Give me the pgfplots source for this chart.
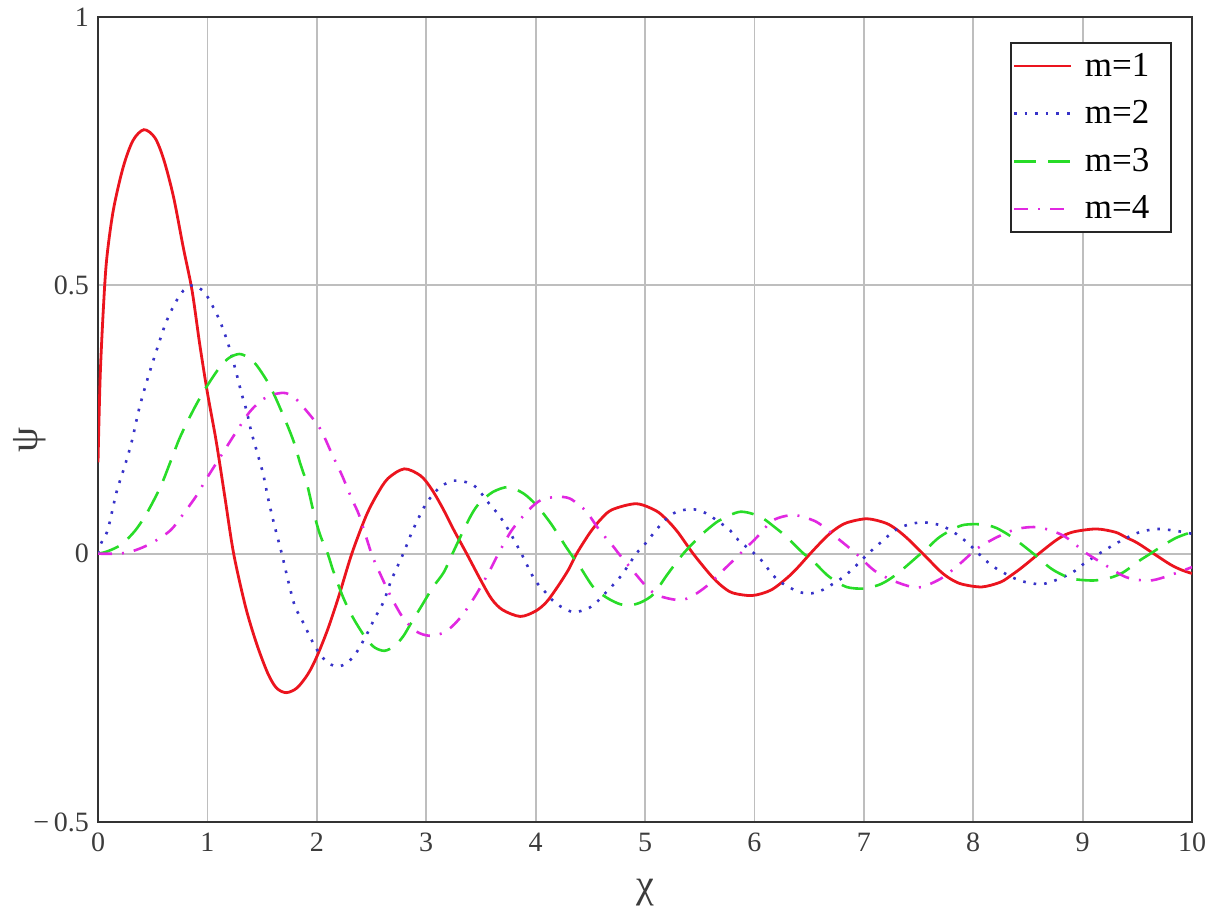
\documentclass[border=0pt]{standalone}
\usepackage{fontspec}
\setmainfont{Liberation Serif}
\usepackage{pgfplots}
\pgfplotsset{compat=1.18}
\definecolor{cred}{RGB}{235,20,30}
\definecolor{cblue}{RGB}{55,50,200}
\definecolor{cgreen}{RGB}{40,220,40}
\definecolor{cmag}{RGB}{225,40,225}
\definecolor{cgrid}{RGB}{190,190,190}
\definecolor{ctick}{RGB}{60,60,60}
\newcommand{\padr}{\rule{8pt}{0pt}}
\begin{document}
\begin{tikzpicture}
\begin{axis}[
  scale only axis,
  width=547pt, height=402.5pt,
  xmin=0, xmax=10, ymin=-0.5, ymax=1,
  xtick={0,1,...,10},
  ytick={-0.5,0,0.5,1},
  yticklabels={{−\,0.5},0,0.5,1},
  grid=major,
  major grid style={cgrid, line width=0.9pt},
  major tick length=0pt,
  axis line style={black!80, line width=1.3pt},
  /pgf/number format/assume math mode=true,
  tick label style={font=\fontsize{14}{14}\selectfont, text=ctick},
  xticklabel style={yshift=-2pt},
  yticklabel style={xshift=-1pt},
  xlabel={χ}, ylabel={ψ},
  every axis x label/.style={font=\fontsize{20}{20}\selectfont, text=ctick, at={(axis description cs:0.5,-0.088)}, anchor=center},
  every axis y label/.style={font=\fontsize{20}{20}\selectfont, text=ctick, at={(axis description cs:-0.062,0.475)}, anchor=center, rotate=90},
  legend style={at={(0.982,0.969)}, anchor=north east, draw=black!85, line width=1pt,
    font=\fontsize{17.5}{17.5}\selectfont, row sep=6.75pt, inner xsep=1pt, inner ysep=3pt},
  legend cell align=left,
  legend image code/.code={\draw[#1, line width=1.2pt] (0cm,0cm) -- (1.0cm,0cm); \path (1.15cm,0cm);},
  every axis plot/.append style={smooth},
]
\addplot[cred, line width=1.4pt] coordinates {
(0,0.17) (0.02,0.33) (0.05,0.46) (0.08,0.55) (0.14,0.64) (0.23,0.72) (0.32,0.77) (0.42,0.79)
(0.52,0.775) (0.60,0.735) (0.69,0.665) (0.78,0.57) (0.86,0.49) (0.93,0.39) (1.00,0.30) (1.08,0.21)
(1.16,0.105) (1.24,0.0) (1.35,-0.10) (1.45,-0.168) (1.55,-0.222) (1.63,-0.25) (1.72,-0.259)
(1.82,-0.25) (1.92,-0.224) (2.00,-0.192) (2.10,-0.141) (2.20,-0.08) (2.32,0) (2.45,0.07) (2.55,0.11)
(2.65,0.14) (2.80,0.158) (2.95,0.145) (3.05,0.12) (3.15,0.085) (3.25,0.045) (3.37,0) (3.50,-0.05)
(3.60,-0.085) (3.70,-0.105) (3.86,-0.117) (4.00,-0.107) (4.10,-0.09) (4.20,-0.062) (4.30,-0.03)
(4.375,0) (4.50,0.04) (4.60,0.065) (4.70,0.082) (4.92,0.093) (5.10,0.08) (5.20,0.063) (5.30,0.04)
(5.44,0) (5.60,-0.04) (5.70,-0.06) (5.80,-0.073) (5.98,-0.078) (6.15,-0.068) (6.30,-0.045)
(6.40,-0.025) (6.51,0) (6.65,0.03) (6.75,0.047) (6.85,0.058) (7.03,0.065) (7.20,0.057) (7.30,0.045)
(7.40,0.028) (7.54,0) (7.70,-0.033) (7.80,-0.048) (7.90,-0.057) (8.08,-0.062) (8.25,-0.053)
(8.35,-0.04) (8.45,-0.025) (8.60,0) (8.75,0.024) (8.85,0.036) (8.95,0.042) (9.13,0.046) (9.30,0.04)
(9.40,0.03) (9.50,0.02) (9.65,0) (9.80,-0.02) (9.90,-0.03) (10,-0.037)
};
\addlegendentry{m=1\padr}
\addplot[cblue, line width=1.3pt, dash pattern=on 1.3pt off 4pt] coordinates {
(0,0) (0.03,0.02) (0.09,0.045) (0.17,0.115) (0.25,0.167) (0.31,0.21) (0.37,0.265) (0.43,0.31)
(0.49,0.35) (0.55,0.388) (0.62,0.43) (0.70,0.465) (0.78,0.49) (0.87,0.50) (0.98,0.485) (1.10,0.44)
(1.18,0.397) (1.25,0.348) (1.31,0.30) (1.36,0.265) (1.40,0.228) (1.45,0.192) (1.51,0.148)
(1.56,0.098) (1.62,0.047) (1.68,0) (1.74,-0.052) (1.80,-0.098) (1.88,-0.13) (1.95,-0.16)
(2.03,-0.188) (2.12,-0.206) (2.20,-0.21) (2.28,-0.203) (2.36,-0.185) (2.45,-0.153) (2.53,-0.12)
(2.61,-0.09) (2.68,-0.05) (2.79,0) (2.88,0.045) (2.99,0.09) (3.07,0.112) (3.14,0.126) (3.25,0.136)
(3.37,0.133) (3.46,0.123) (3.58,0.092) (3.66,0.073) (3.75,0.045) (3.87,0) (3.99,-0.048)
(4.09,-0.072) (4.16,-0.088) (4.25,-0.101) (4.35,-0.109) (4.47,-0.103) (4.55,-0.092) (4.63,-0.075)
(4.71,-0.058) (4.79,-0.039) (4.92,0) (5.00,0.018) (5.11,0.046) (5.20,0.066) (5.29,0.078)
(5.42,0.083) (5.53,0.078) (5.65,0.063) (5.78,0.043) (5.85,0.026) (6.00,0) (6.08,-0.016)
(6.16,-0.038) (6.24,-0.053) (6.33,-0.064) (6.42,-0.072) (6.52,-0.074) (6.63,-0.067) (6.72,-0.056)
(6.81,-0.044) (6.90,-0.028) (7.04,0) (7.10,0.011) (7.20,0.029) (7.28,0.043) (7.36,0.051)
(7.47,0.057) (7.57,0.058) (7.70,0.053) (7.78,0.045) (7.85,0.036) (7.95,0.02) (8.05,0)
(8.15,-0.019) (8.23,-0.03) (8.31,-0.039) (8.40,-0.048) (8.50,-0.054) (8.62,-0.057) (8.72,-0.052)
(8.82,-0.044) (8.93,-0.032) (9.01,-0.019) (9.15,0) (9.20,0.006) (9.28,0.016) (9.37,0.026)
(9.48,0.037) (9.58,0.043) (9.69,0.046) (9.80,0.044) (9.90,0.041) (10,0.037)
};
\addlegendentry{m=2\padr}
\addplot[cgreen, line width=1.3pt, dash pattern=on 11pt off 6pt] coordinates {
(0,0) (0.05,0.002) (0.12,0.007) (0.22,0.018) (0.34,0.043) (0.445,0.075) (0.57,0.124) (0.66,0.17)
(0.75,0.217) (0.87,0.267) (0.98,0.307) (1.115,0.348) (1.20,0.365) (1.29,0.372) (1.37,0.366)
(1.45,0.351) (1.57,0.313) (1.68,0.264) (1.785,0.211) (1.85,0.167) (1.91,0.13) (1.97,0.078)
(2.03,0.035) (2.10,0) (2.15,-0.032) (2.24,-0.081) (2.33,-0.119) (2.45,-0.158) (2.53,-0.175)
(2.62,-0.181) (2.71,-0.172) (2.79,-0.154) (2.86,-0.13) (2.95,-0.1) (3.06,-0.063) (3.16,-0.035)
(3.24,0) (3.34,0.043) (3.42,0.075) (3.49,0.095) (3.61,0.115) (3.75,0.124) (3.89,0.112) (4.01,0.09)
(4.10,0.067) (4.16,0.05) (4.28,0.012) (4.32,0) (4.41,-0.026) (4.53,-0.063) (4.65,-0.082)
(4.77,-0.094) (4.87,-0.096) (4.97,-0.09) (5.08,-0.075) (5.20,-0.04) (5.35,0) (5.50,0.032)
(5.60,0.05) (5.69,0.063) (5.87,0.078) (6.05,0.069) (6.20,0.047) (6.30,0.03) (6.45,0) (6.51,-0.008)
(6.60,-0.027) (6.69,-0.044) (6.84,-0.062) (7.00,-0.065) (7.14,-0.058) (7.24,-0.047) (7.35,-0.03)
(7.52,0) (7.57,0.008) (7.68,0.029) (7.79,0.043) (7.90,0.053) (8.02,0.055) (8.13,0.053)
(8.21,0.048) (8.30,0.038) (8.40,0.024) (8.55,0) (8.70,-0.026) (8.80,-0.038) (8.91,-0.047)
(9.10,-0.05) (9.25,-0.045) (9.37,-0.035) (9.52,-0.013) (9.62,0) (9.74,0.016) (9.85,0.029)
(9.95,0.037) (10,0.04)
};
\addlegendentry{m=3\padr}
\addplot[cmag, line width=1.3pt, dash pattern=on 7pt off 5pt on 1pt off 5pt] coordinates {
(0,0) (0.15,0.0) (0.29,0.003) (0.475,0.018) (0.66,0.043) (0.78,0.074) (0.90,0.108) (0.99,0.139)
(1.145,0.189) (1.27,0.229) (1.39,0.265) (1.51,0.288) (1.63,0.298) (1.72,0.299) (1.80,0.29)
(1.89,0.27) (2.03,0.233) (2.14,0.185) (2.23,0.146) (2.32,0.102) (2.39,0.07) (2.50,0)
(2.58,-0.038) (2.68,-0.081) (2.79,-0.12) (2.91,-0.145) (3.03,-0.153) (3.15,-0.148) (3.24,-0.135)
(3.34,-0.112) (3.46,-0.075) (3.58,-0.032) (3.66,0) (3.78,0.043) (3.93,0.08) (4.05,0.1)
(4.20,0.106) (4.31,0.103) (4.40,0.09) (4.47,0.077) (4.59,0.042) (4.70,0.016) (4.76,0)
(4.89,-0.032) (5.02,-0.063) (5.12,-0.078) (5.28,-0.086) (5.38,-0.084) (5.48,-0.073) (5.59,-0.056)
(5.71,-0.032) (5.87,0) (5.93,0.012) (6.02,0.03) (6.17,0.062) (6.35,0.072) (6.50,0.065)
(6.60,0.055) (6.77,0.027) (6.93,0) (7.10,-0.032) (7.30,-0.053) (7.50,-0.063) (7.70,-0.047)
(7.86,-0.022) (7.98,0) (8.03,0.009) (8.21,0.03) (8.40,0.046) (8.60,0.049) (8.82,0.034)
(9.00,0.006) (9.04,0) (9.19,-0.019) (9.40,-0.044) (9.62,-0.05) (9.83,-0.038) (10,-0.025)
};
\addlegendentry{m=4\padr}
\end{axis}
\path ([shift={(-49pt,-47.5pt)}]current axis.south west) rectangle ([shift={(13pt,8.5pt)}]current axis.north east);
\end{tikzpicture}
\end{document}
